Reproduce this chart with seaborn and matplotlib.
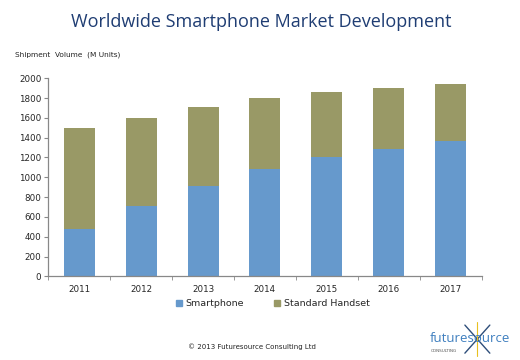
import pandas as pd
import matplotlib
matplotlib.use('Agg')
import matplotlib.pyplot as plt
import seaborn as sns
from matplotlib.patches import Patch
from matplotlib.lines import Line2D
from matplotlib.ticker import FixedLocator

# Data
years = ['2011', '2012', '2013', '2014', '2015', '2016', '2017']
smartphone = [475, 715, 915, 1080, 1200, 1290, 1365]
total = [1500, 1600, 1710, 1800, 1865, 1905, 1945]
standard_handset = [t - s for t, s in zip(total, smartphone)]

df = pd.DataFrame({'Year': years, 'Smartphone': smartphone,
                   'Standard Handset': standard_handset, 'Total': total})

blue = '#6699CC'
olive = '#999966'
navy = '#1F3D73'

sns.set_style('white')
plt.rcParams['font.family'] = ['DejaVu Sans']

fig = plt.figure(figsize=(5.2, 3.6), dpi=100)
ax = fig.add_axes([0.093, 0.2325, 0.833, 0.55])

# stacked bars: total (olive) behind, smartphone (blue) in front
sns.barplot(data=df, x='Year', y='Total', color=olive, width=0.5,
            saturation=1, linewidth=0, ax=ax)
sns.barplot(data=df, x='Year', y='Smartphone', color=blue, width=0.5,
            saturation=1, linewidth=0, ax=ax)

ax.set_ylim(0, 2000)
ax.set_xlim(-0.5, 6.5)
ax.set_yticks(range(0, 2001, 200))
ax.set_xlabel('')
ax.set_ylabel('')
for s in ['top', 'right']:
    ax.spines[s].set_visible(False)
for s in ['left', 'bottom']:
    ax.spines[s].set_color('#888888')
    ax.spines[s].set_linewidth(0.9)

ax.tick_params(axis='y', labelsize=6.3, length=3, color='#888888',
               direction='out', left=True, pad=2)
ax.tick_params(axis='x', which='major', labelsize=6.3, length=0, pad=6)
ax.xaxis.set_minor_locator(FixedLocator([i - 0.5 for i in range(8)]))
ax.tick_params(axis='x', which='minor', length=3, color='#888888',
               direction='out', bottom=True)

# title and axis caption
fig.text(0.502, 0.938, 'Worldwide Smartphone Market Development',
         ha='center', va='center', fontsize=13, color=navy,
         family='Open Sans')
fig.text(0.029, 0.847, 'Shipment  Volume  (M Units)', ha='left',
         va='center', fontsize=5.3, color='#222222')

# legend
handles = [Patch(color=blue, label='Smartphone'),
           Patch(color=olive, label='Standard Handset')]
fig.legend(handles=handles, loc='center', bbox_to_anchor=(0.525, 0.156),
           ncol=2, frameon=False, fontsize=6.8, handlelength=0.6,
           handleheight=0.6, handletextpad=0.4, columnspacing=3.2)

# footer
fig.text(0.485, 0.036, '\u00a9 2013 Futuresource Consulting Ltd',
         ha='center', va='center', fontsize=5, color='#222222')

# logo: word mark with a cross over the "o"
fig.add_artist(Line2D([0.894, 0.942], [0.097, 0.019], color='#2E4E7A',
                      lw=1.0, transform=fig.transFigure))
fig.add_artist(Line2D([0.894, 0.942], [0.019, 0.097], color='#2E4E7A',
                      lw=1.0, transform=fig.transFigure))
fig.add_artist(Line2D([0.917, 0.917], [0.012, 0.105], color='#E8C020',
                      lw=0.8, transform=fig.transFigure))
fig.text(0.827, 0.05, 'futuresource', ha='left', va='baseline',
         fontsize=9.5, color='#3F7FBF', family='Open Sans')
fig.text(0.828, 0.026, 'CONSULTING', ha='left', va='center', fontsize=3,
         color='#555555')

fig.savefig('out.png', dpi=100)
